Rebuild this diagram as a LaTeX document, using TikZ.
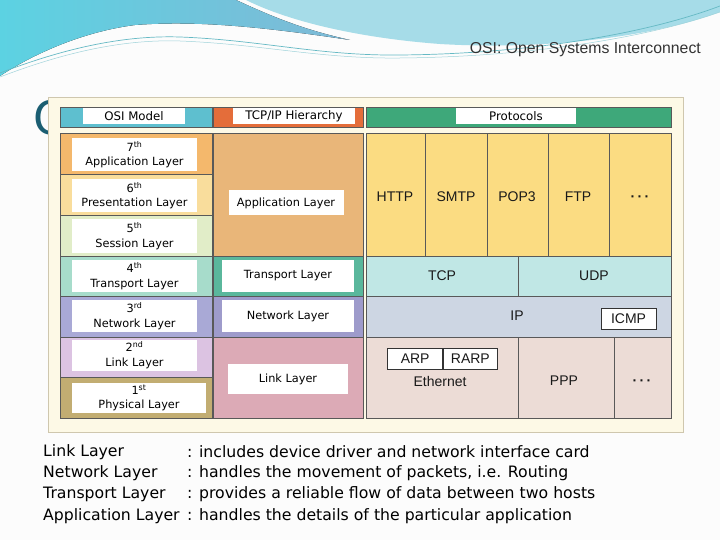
\documentclass[tikz,border=0pt]{standalone}
\usepackage{fontspec}
\setmainfont{DejaVu Sans}
\newfontfamily\protofont{Liberation Sans}
\usetikzlibrary{positioning}
\definecolor{swA}{HTML}{5CD2E2}\definecolor{swB}{HTML}{7FB9D6}\definecolor{swC}{HTML}{A6DCE8}
\definecolor{swline}{HTML}{3FA7B5}\definecolor{titleteal}{HTML}{1B5E72}
\definecolor{framebg}{HTML}{FDF9E6}\definecolor{frameline}{HTML}{CFC7AE}
\definecolor{hosi}{HTML}{5EBFCF}\definecolor{htcp}{HTML}{E46D3A}\definecolor{hproto}{HTML}{3EA87A}
\definecolor{osiA}{HTML}{F4B86C}\definecolor{osiB}{HTML}{F9DD9C}\definecolor{osiC}{HTML}{E1EDC8}
\definecolor{osiD}{HTML}{A7DCCB}\definecolor{osiE}{HTML}{A9A9D6}\definecolor{osiF}{HTML}{DCC3E2}
\definecolor{osiG}{HTML}{C2AD72}
\definecolor{tcpA}{HTML}{E9B679}\definecolor{tcpB}{HTML}{5AB79C}\definecolor{tcpC}{HTML}{9E9BCB}
\definecolor{tcpD}{HTML}{DCAAB6}
\definecolor{prA}{HTML}{FBDC82}\definecolor{prB}{HTML}{C0E7E5}\definecolor{prC}{HTML}{CDD6E3}
\definecolor{prD}{HTML}{ECDCD6}

\begin{document}
\begin{tikzpicture}[x=1pt, y=-1pt,
  cell/.style={draw=black!65, line width=0.7pt},
  tag/.style={fill=white, inner sep=0pt, align=center, font=\fontsize{11.3}{14.5}\selectfont},
  headtag/.style={tag, minimum height=16pt, font=\fontsize{11.8}{13}\selectfont},
  proto/.style={font=\protofont\fontsize{14}{16}\selectfont, text=black!90},
  pbox/.style={proto, draw=black!80, fill=white, line width=0.7pt, inner sep=0pt, minimum height=21pt},
  note/.style={anchor=west, inner sep=0pt, font=\fontsize{15.7}{18}\selectfont}]
\useasboundingbox (0,0) rectangle (720,540);
\fill[black!1] (0,0) rectangle (720,540);
% top swoosh
\fill[left color=swA, right color=swB] (0,0) -- (236,0) .. controls (275,18) and (305,30) .. (350,40) .. controls (270,28) and (200,20) .. (135,25) .. controls (80,32) and (30,56) .. (0,76) -- cycle;
\fill[swC] (246,0) -- (720,0) -- (720,12) .. controls (650,38) and (540,50) .. (440,44) .. controls (360,38) and (290,22) .. (246,0) -- cycle;
\draw[swline!80, line width=0.7pt] (0,73) .. controls (60,50) and (120,35) .. (180,37) .. controls (260,40) and (320,56) .. (400,55) .. controls (520,54) and (640,36) .. (720,6);
\draw[swline!50, line width=0.5pt] (0,77) .. controls (60,54) and (120,39) .. (180,41) .. controls (260,44) and (320,59) .. (400,58) .. controls (520,57) and (640,40) .. (720,12);
\node[anchor=east, inner sep=0pt, font=\protofont\fontsize{15.8}{18}\selectfont, text=black!80] (subtitle) at (701,50) {OSI: Open Systems Interconnect};
\node[anchor=west, inner sep=0pt, font=\fontsize{46}{50}\selectfont, text=titleteal] (title) at (33,118) {O};
% picture frame
\draw[frameline, fill=framebg] (48,97) rectangle (683,432);
% header row
\draw[cell, fill=hosi] (60,107) rectangle (212,127);\draw[cell, fill=htcp] (213,107) rectangle (363,127);\draw[cell, fill=hproto] (366,107) rectangle (671,127);
\node[headtag, minimum width=102pt] (hosi) at (134,116) {OSI Model};
\node[headtag, minimum width=122pt] (htcp) at (294,116) {TCP/IP Hierarchy};
\node[headtag, minimum width=120pt] (hproto) at (516,116) {Protocols};
% OSI column
\draw[cell, fill=osiA] (60,133) rectangle (212,174);\draw[cell, fill=osiB] (60,174) rectangle (212,215);
\draw[cell, fill=osiC] (60,215) rectangle (212,256);\draw[cell, fill=osiD] (60,256) rectangle (212,296);
\draw[cell, fill=osiE] (60,296) rectangle (212,337);\draw[cell, fill=osiF] (60,337) rectangle (212,377);
\draw[cell, fill=osiG] (60,377) rectangle (212,418);
\node[tag, minimum width=125pt, minimum height=33pt] (osi7) at (134.5,154.5) {7\textsuperscript{th}\\Application Layer};
\node[tag, minimum width=125pt, minimum height=33pt] (osi6) at (134.5,195.5) {6\textsuperscript{th}\\Presentation Layer};
\node[tag, minimum width=125pt, minimum height=33pt] (osi5) at (134.5,236) {5\textsuperscript{th}\\Session Layer};
\node[tag, minimum width=125pt, minimum height=32pt] (osi4) at (134.5,276) {4\textsuperscript{th}\\Transport Layer};
\node[tag, minimum width=125pt, minimum height=32pt] (osi3) at (134.5,316) {3\textsuperscript{rd}\\Network Layer};
\node[tag, minimum width=125pt, minimum height=31pt] (osi2) at (134.5,355) {2\textsuperscript{nd}\\Link Layer};
\node[tag, minimum width=134pt, minimum height=30pt] (osi1) at (139,398) {1\textsuperscript{st}\\Physical Layer};
% TCP/IP column
\draw[cell, fill=tcpA] (213,133) rectangle (363,256);\draw[cell, fill=tcpB] (213,256) rectangle (363,296);
\draw[cell, fill=tcpC] (213,296) rectangle (363,337);\draw[cell, fill=tcpD] (213,337) rectangle (363,418);
\node[tag, minimum width=115pt, minimum height=25pt] (tcpapp) at (286,203) {Application Layer};
\node[tag, minimum width=132pt, minimum height=32pt] (tcptrans) at (288,276) {Transport Layer};
\node[tag, minimum width=132pt, minimum height=32pt] (tcpnet) at (288,316) {Network Layer};
\node[tag, minimum width=120pt, minimum height=30pt] (tcplink) at (288,379) {Link Layer};
% protocols column
\draw[cell, fill=prA] (366,133) rectangle (425,256);\draw[cell, fill=prA] (425,133) rectangle (487,256);
\draw[cell, fill=prA] (487,133) rectangle (548,256);\draw[cell, fill=prA] (548,133) rectangle (609,256);
\draw[cell, fill=prA] (609,133) rectangle (671,256);
\node[proto] (http) at (395,197) {HTTP};\node[proto] (smtp) at (456,197) {SMTP};\node[proto] (pop) at (517,197) {POP3};
\node[proto] (ftp) at (578,197) {FTP};\node[proto, anchor=base] (appmore) at (640,202) {\bfseries ·\,·\,·};
\draw[cell, fill=prB] (366,256) rectangle (518,296);\draw[cell, fill=prB] (518,256) rectangle (671,296);
\node[proto] (tcp) at (442,276) {TCP};\node[proto] (udp) at (594,276) {UDP};
\draw[cell, fill=prC] (366,296) rectangle (671,337);
\node[proto] (ip) at (517,316) {IP};
\node[pbox, minimum width=55pt] (icmp) at (628.5,319) {ICMP};
\draw[cell, fill=prD] (366,337) rectangle (518,418);\draw[cell, fill=prD] (518,337) rectangle (614,418);
\draw[cell, fill=prD] (614,337) rectangle (671,418);
\node[pbox, minimum width=55pt, anchor=east] (arp) at (443,358.5) {ARP};
\node[pbox, minimum width=54pt, right=0pt of arp] (rarp) {RARP};
\node[proto] (ether) at (440,381) {Ethernet};\node[proto] (ppp) at (564,381) {PPP};\node[proto, anchor=base] (linkmore) at (642,385) {\bfseries ·\,·\,·};
% notes under the picture
\node[note] (n1) at (43,452) {Link Layer};\node[note] (d1) at (187,452) {: includes device driver and network interface card};
\node[note] (n2) at (43,473) {Network Layer};\node[note] (d2) at (187,473) {: handles the movement of packets, i.e. Routing};
\node[note] (n3) at (43,494) {Transport Layer};\node[note] (d3) at (187,494) {: provides a reliable flow of data between two hosts};
\node[note] (n4) at (43,516) {Application Layer};\node[note] (d4) at (187,516) {: handles the details of the particular application};
\end{tikzpicture}
\end{document}
